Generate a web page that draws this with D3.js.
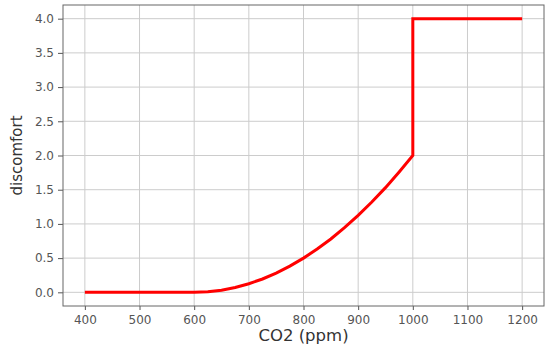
<!DOCTYPE html>
<html>
<head>
<meta charset="utf-8">
<script src="https://cdn.jsdelivr.net/npm/d3@7"></script>
<style>
  body { margin: 0; background: #fff; }
  svg text { font-family: "DejaVu Sans", sans-serif; }
  .tick text { fill: #555; font-size: 12px; }
  .tick line { stroke: #555; }
  .grid line { stroke: #ccc; stroke-width: 1; }
</style>
</head>
<body>
<div id="chart"></div>
<script>
// values
var co2 = [400, 450, 500, 550, 600, 625, 650, 675, 700, 725, 750, 775, 800,
           825, 850, 875, 900, 925, 950, 975, 1000, 1000, 1100, 1200];
var discomfort = [0, 0, 0, 0, 0, 0.008, 0.031, 0.07, 0.125, 0.195, 0.28, 0.383, 0.5,
                  0.633, 0.78, 0.945, 1.125, 1.32, 1.53, 1.76, 2.0, 4.0, 4.0, 4.0];
var xTicks = [400, 500, 600, 700, 800, 900, 1000, 1100, 1200];
var yTicks = [0, 0.5, 1, 1.5, 2, 2.5, 3, 3.5, 4];

var svgWidth = 550;
var svgHeight = 349;

var margin = { top: 5, right: 6, bottom: 43, left: 63 };
var width = svgWidth - margin.left - margin.right;
var height = svgHeight - margin.top - margin.bottom;

var svg = d3.select("#chart")
    .append("svg")
    .attr("width", svgWidth)
    .attr("height", svgHeight);

var chartGroup = svg.append("g")
    .attr("transform", `translate(${margin.left}, ${margin.top})`);

var x = d3.scaleLinear().domain([360, 1240]).range([0, width]);
var y = d3.scaleLinear().domain([-0.2, 4.2]).range([height, 0]);

// grid lines
var grid = chartGroup.append("g").classed("grid", true);

grid.selectAll("line.vx")
    .data(xTicks)
    .enter()
    .append("line")
    .attr("x1", d => x(d)).attr("x2", d => x(d))
    .attr("y1", 0).attr("y2", height);

grid.selectAll("line.hy")
    .data(yTicks)
    .enter()
    .append("line")
    .attr("x1", 0).attr("x2", width)
    .attr("y1", d => y(d)).attr("y2", d => y(d));

// axes
var bottomAxis = d3.axisBottom(x).tickValues(xTicks).tickFormat(d3.format("d")).tickSize(4).tickPadding(5);
var leftAxis = d3.axisLeft(y).tickValues(yTicks).tickFormat(d3.format(".1f")).tickSize(5).tickPadding(4);

var xAxis = chartGroup.append("g")
    .attr("transform", `translate(0, ${height})`)
    .call(bottomAxis);
xAxis.select(".domain").remove();

var yAxis = chartGroup.append("g")
    .call(leftAxis);
yAxis.select(".domain").remove();
xAxis.attr("font-family", null).attr("font-size", null);
yAxis.attr("font-family", null).attr("font-size", null);

// frame
chartGroup.append("rect")
    .attr("width", width)
    .attr("height", height)
    .attr("fill", "none")
    .attr("stroke", "#666")
    .attr("stroke-width", 1);

// the curve
var line = d3.line()
    .x((d, i) => x(co2[i]))
    .y(d => y(d));

chartGroup.append("path")
    .datum(discomfort)
    .attr("d", line)
    .attr("fill", "none")
    .attr("stroke", "#ff0000")
    .attr("stroke-width", 3);

// labels
svg.append("text")
    .attr("x", margin.left + width / 2)
    .attr("y", 341)
    .attr("text-anchor", "middle")
    .attr("fill", "#333")
    .style("font-size", "16.5px")
    .text("CO2 (ppm)");

svg.append("text")
    .attr("transform", `translate(22, ${margin.top + height / 2}) rotate(-90)`)
    .attr("text-anchor", "middle")
    .attr("fill", "#333")
    .style("font-size", "15px")
    .text("discomfort");
</script>
</body>
</html>
